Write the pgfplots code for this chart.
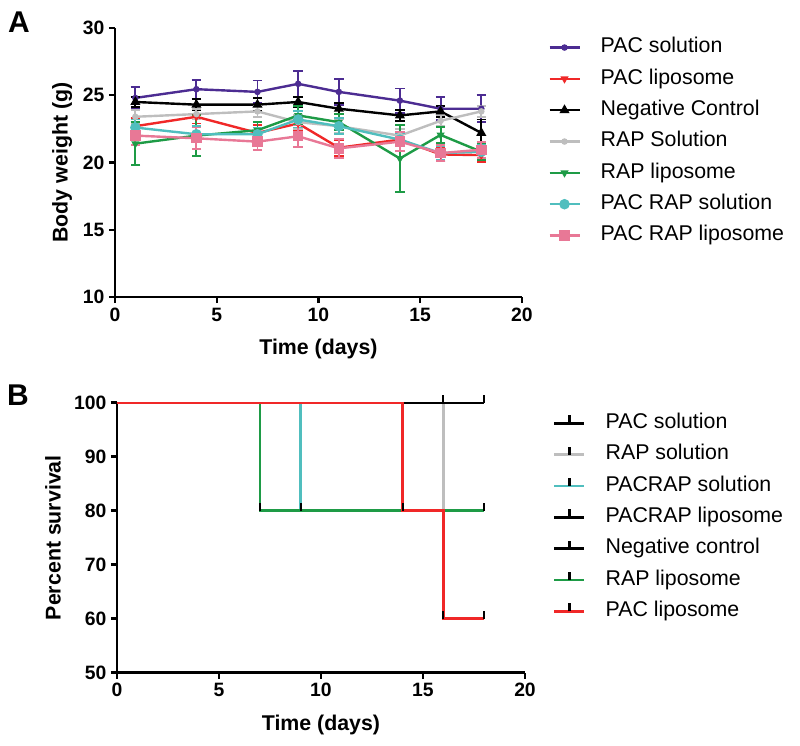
\documentclass[border=0pt]{standalone}
\usepackage{fontspec}
\setmainfont{Liberation Sans}
\usepackage{pgfplots}
\usepackage{pgfplotstable}
\pgfplotsset{compat=1.18}

\definecolor{cpurple}{RGB}{76,44,146}
\definecolor{cred}{RGB}{240,40,40}
\definecolor{cgray}{RGB}{190,190,190}
\definecolor{cgreen}{RGB}{30,155,70}
\definecolor{ccyan}{RGB}{80,190,190}
\definecolor{cpink}{RGB}{232,120,150}

% censor tick pointing up
\pgfdeclareplotmark{uptick}{%
  \pgfpathmoveto{\pgfpointorigin}%
  \pgfpathlineto{\pgfpoint{0pt}{2\pgfplotmarksize}}%
  \pgfusepathqstroke}

% body weight, mean and error
\pgfplotstableread{
day pacs pacse pacl pacle neg nege raps rapse rapl raple prs prse prl prle
1  24.80 0.80 22.70 0.60 24.50 0.40 23.40 0.50 21.40 1.60 22.60 0.60 22.00 0.70
4  25.45 0.70 23.40 0.50 24.30 0.40 23.60 0.40 22.00 1.50 22.10 0.60 21.80 0.80
7  25.25 0.85 22.20 0.60 24.30 0.50 23.80 0.40 22.40 0.60 22.10 0.50 21.55 0.60
9  25.85 0.95 22.90 0.50 24.50 0.40 23.00 0.50 23.50 0.70 23.20 0.60 21.95 0.80
11 25.25 0.95 21.10 0.60 24.00 0.40 22.70 0.50 23.00 0.60 22.70 0.60 21.05 0.70
14 24.60 0.90 21.70 0.50 23.50 0.40 22.00 0.50 20.30 2.50 21.70 0.50 21.55 0.70
16 24.00 0.85 20.60 0.50 23.80 0.40 23.10 0.40 22.05 0.60 20.70 0.50 20.70 0.60
18 24.00 1.00 20.55 0.50 22.20 1.00 23.80 0.40 20.80 0.60 20.80 0.50 20.95 0.60
}\weights

\pgfplotsset{
  prism/.style={
    scale only axis,
    axis x line=bottom, axis y line=left,
    axis line style={-, line width=1.8pt},
    tick align=outside, major tick length=4.5pt,
    tick style={line width=1.8pt, black},
    xmin=0, xmax=20, xtick={0,5,...,20},
    tick label style={font=\fontsize{14.5}{16}\selectfont\bfseries},
    /pgf/number format/assume math mode=true,
    label style={font=\fontsize{16}{18}\selectfont\bfseries},
    legend cell align=left,
    legend style={draw=none, fill=none, inner sep=0pt, row sep=7.5pt,
      font=\fontsize{16}{19}\selectfont,
      nodes={inner sep=0pt, text height=12pt, text depth=4pt, anchor=west},
      /tikz/every odd column/.append style={column sep=15pt}},
  },
  wt/.style={color=#1, line width=1.8pt,
    /pgfplots/error bars/y dir=both,
    /pgfplots/error bars/y explicit,
    /pgfplots/error bars/error bar style={line width=1.4pt, #1},
    /pgfplots/error bars/error mark options={rotate=90, mark size=3.5pt, line width=1.4pt, #1}},
  surv/.style={color=#1, line width=1.8pt, const plot, mark=uptick,
    mark size=3pt, mark options={black, line width=1.6pt}},
}

\begin{document}
\begin{tikzpicture}
\useasboundingbox (0,0) rectangle (600pt,-559.5pt);
\node[font=\fontsize{22.5}{24}\selectfont\bfseries] at (14.25pt,-16.5pt) {A};
\node[font=\fontsize{22.5}{24}\selectfont\bfseries] at (13.5pt,-296.25pt) {B};

\begin{axis}[prism,
  at={(86.25pt,-222.75pt)}, anchor=south west,
  width=305.25pt, height=201.75pt,
  ymin=10, ymax=30, ytick={10,15,...,30},
  xlabel={Time (days)}, ylabel={Body weight (g)},
  xlabel style={at={(axis description cs:0.5,-0.193)}, anchor=center},
  ylabel style={at={(axis description cs:-0.130,0.5)}, anchor=center},
  legend style={at={(axis description cs:1.064,0.968)}, anchor=north west},
  legend image code/.code={\draw[#1, mark repeat=2, mark phase=2]
    plot coordinates {(0pt,0pt) (11.25pt,0pt) (22.5pt,0pt)};},
]
\addplot[wt=cpurple, mark=*, mark size=1.5pt]
  table[x=day, y=pacs, y error=pacse] {\weights};
\addlegendentry{PAC solution}
\addplot[wt=cred, mark=triangle*, mark size=1.8pt, mark options={rotate=180}]
  table[x=day, y=pacl, y error=pacle] {\weights};
\addlegendentry{PAC liposome}
\addplot[wt=black, mark=triangle*, mark size=2.6pt]
  table[x=day, y=neg, y error=nege] {\weights};
\addlegendentry{Negative Control}
\addplot[wt=cgray, mark=*, mark size=1.5pt]
  table[x=day, y=raps, y error=rapse] {\weights};
\addlegendentry{RAP Solution}
\addplot[wt=cgreen, mark=triangle*, mark size=1.8pt, mark options={rotate=180}]
  table[x=day, y=rapl, y error=raple] {\weights};
\addlegendentry{RAP liposome}
\addplot[wt=ccyan, mark=*, mark size=3pt]
  table[x=day, y=prs, y error=prse] {\weights};
\addlegendentry{PAC RAP solution}
\addplot[wt=cpink, mark=square*, mark size=3pt]
  table[x=day, y=prl, y error=prle] {\weights};
\addlegendentry{PAC RAP liposome}
\end{axis}

\begin{axis}[prism,
  at={(87.75pt,-504.5pt)}, anchor=south west,
  width=306pt, height=202.5pt,
  ymin=50, ymax=100, ytick={50,60,...,100},
  xlabel={Time (days)}, ylabel={Percent survival},
  xlabel style={at={(axis description cs:0.5,-0.194)}, anchor=center},
  ylabel style={at={(axis description cs:-0.157,0.5)}, anchor=center},
  legend style={at={(axis description cs:1.0686,0.964)}, anchor=north west},
  legend image code/.code={\draw[#1, mark indices={2}]
    plot coordinates {(0pt,0pt) (11.25pt,0pt) (22.5pt,0pt)};},
]
\addplot[surv=black, mark indices={2}] coordinates {(0,100) (18,100)};
\addlegendentry{PAC solution}
\addplot[surv=cgray, mark indices={3}] coordinates {(0,100) (16,80) (18,80)};
\addlegendentry{RAP solution}
\addplot[surv=ccyan, mark indices={2,3}] coordinates {(0,100) (9,80) (18,80)};
\addlegendentry{PACRAP solution}
\addplot[surv=black, mark indices={2,3}] coordinates {(0,100) (16,100) (18,100)};
\addlegendentry{PACRAP liposome}
\addplot[surv=black, mark indices={2}] coordinates {(0,100) (18,100)};
\addlegendentry{Negative control}
\addplot[surv=cgreen, mark indices={2,3}] coordinates {(0,100) (7,80) (18,80)};
\addlegendentry{RAP liposome}
\addplot[surv=cred, mark indices={2,3,4}] coordinates {(0,100) (14,80) (16,60) (18,60)};
\addlegendentry{PAC liposome}
\end{axis}
\end{tikzpicture}
\end{document}
